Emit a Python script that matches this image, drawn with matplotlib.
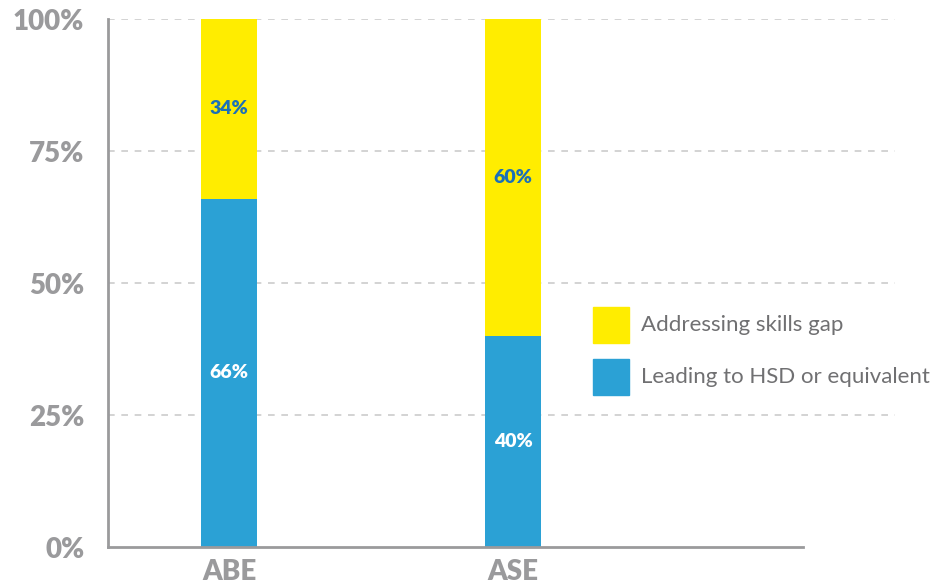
import matplotlib.pyplot as plt
from matplotlib.patches import Rectangle

# data
categories = ['ABE', 'ASE']
hsd = [66, 40]          # Leading to HSD or equivalent
skills = [34, 60]       # Addressing skills gap
yticks = [0, 25, 50, 75, 100]

blue = '#2ba1d5'
yellow = '#ffed00'
gray = '#9a9a9c'

plt.rcParams['font.family'] = ['Lato', 'DejaVu Sans']

fig = plt.figure(figsize=(9.38, 5.87), dpi=100)
ax = fig.add_axes([108 / 938, 40 / 587, 787 / 938, 528 / 587])

x = list(range(len(categories)))
ax.bar(x, hsd, width=0.197, color=blue, zorder=3)
ax.bar(x, skills, width=0.197, bottom=hsd, color=yellow, zorder=3)

# labels inside the bars
for i in x:
    ax.text(i, hsd[i] / 2, f'{hsd[i]}%', ha='center', va='center',
            color='white', fontsize=14, fontweight='heavy', zorder=4)
    ax.text(i, hsd[i] + skills[i] / 2, f'{skills[i]}%', ha='center', va='center',
            color='#1b70b8', fontsize=14, fontweight='heavy', zorder=4)

ax.set_xlim(-0.426, 2.345)
ax.set_ylim(0, 100)
ax.set_yticks(yticks)
ax.set_yticklabels([f'{t}%' for t in yticks])
ax.set_xticks(x)
ax.set_xticklabels(categories)
ax.tick_params(axis='both', length=0, colors=gray, labelsize=20)
ax.tick_params(axis='y', pad=17)
ax.tick_params(axis='x', pad=9)
for lab in ax.get_xticklabels() + ax.get_yticklabels():
    lab.set_fontweight('heavy')

ax.grid(axis='y', linestyle=(0, (4, 4)), color='#cccccc', linewidth=1.2, zorder=0)
ax.grid(axis='x', visible=False)
ax.yaxis.get_gridlines()[0].set_visible(False)
ax.spines['top'].set_visible(False)
ax.spines['right'].set_visible(False)
for s in ['left', 'bottom']:
    ax.spines[s].set_color(gray)
    ax.spines[s].set_linewidth(2)
ax.spines['bottom'].set_bounds(-0.426, 2.021)
ax.spines['bottom'].set_zorder(5)

# legend
leg = [('Addressing skills gap', yellow, 307), ('Leading to HSD or equivalent', blue, 359)]
for name, col, ytop in leg:
    fig.patches.append(Rectangle((593 / 938, 1 - (ytop + 36) / 587), 36 / 938, 36 / 587,
                                 transform=fig.transFigure, color=col))
    fig.text(641 / 938, 1 - (ytop + 18) / 587, name, va='center', ha='left',
             color='#707072', fontsize=16)

plt.savefig('out.png', dpi=100)
